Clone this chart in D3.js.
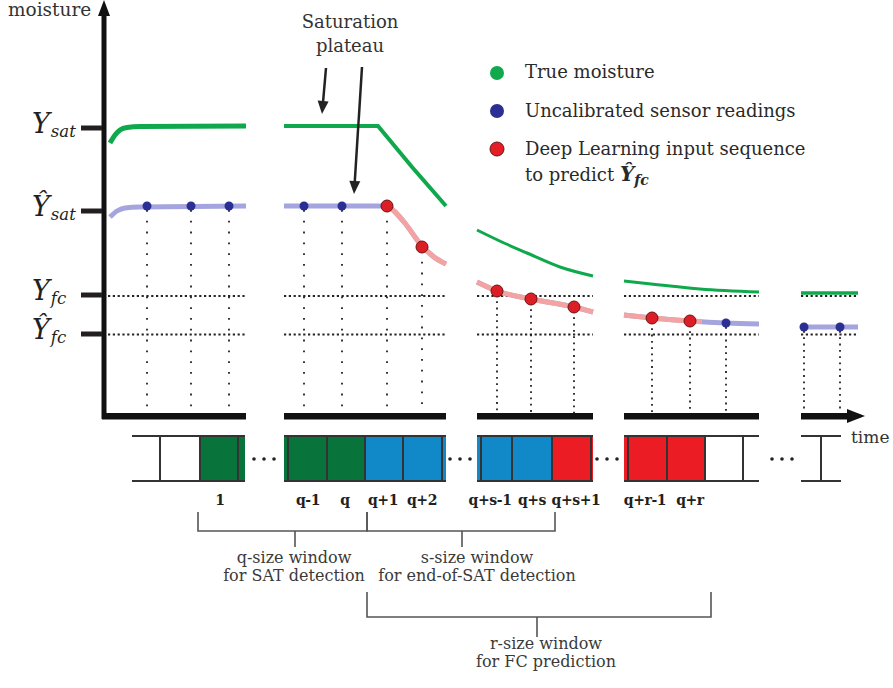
<!DOCTYPE html>
<html><head><meta charset="utf-8">
<script src="https://cdn.jsdelivr.net/npm/d3@7"></script>
<style>body{margin:0;background:#fff} svg{display:block}</style>
</head><body><svg id="c" width="893" height="688"></svg>
<script>
// ---------------- DATA ----------------
// time axis is broken into visible segments [t0, t1]
const axisSegments = [[-2,142],[180,342],[373,489],[520,655],[697,743]];
// true moisture curve, per segment: [time, moisture]
const trueMoisture = [
  [[6,273],[11,281],[16,286],[23,288.5],[36,289.5],[142,290]],
  [[180,290],[274,290],[308,249],[342,210]],
  [[373,186],[400,173],[423,163],[456,149],[489,140]],
  [[520,135],[556,131],[596,127],[655,124]],
  [[697,123],[754,123]]
];
// uncalibrated sensor curve, per segment
const sensorCurve = [
  [[6,199],[13,205],[21,208],[36,209],[142,210]],
  [[180,210],[283,210],[290,205],[300,194],[318,170],[330,159],[342,152]],
  [[373,134],[393,125],[427,117],[470,109],[489,104]],
  [[520,101],[548,98],[586,95],[622,93],[655,92]],
  [[697,89],[754,89]]
];
// deep-learning input part of the sensor curve
const dlCurve = [
  [[283,210],[290,205],[300,194],[318,170],[330,159],[342,152]],
  [[373,134],[393,125],[427,117],[470,109],[489,104]],
  [[520,101],[548,98],[586,95],[598,94.5]]
];
// sensor readings (blue points)
const sensorT = [43,87,125,200,238,622,700,736];
const sensorM = [210,210,210,210,210,93,89,89];
// DL input sequence (red points)
const dlT = [283,318,393,427,470,548,586];
const dlM = [210,169,125,117,109,98,95];
// reference levels on the moisture axis
const levelNames = ["Y","Ŷ","Y","Ŷ"];
const levelSubs = ["sat","sat","fc","fc"];
const levelValues = [288,205,121,82];
// dotted FC lines
const fcLines = [120,81.5];
const fcSpans = [[4,141],[180,342],[373,489],[520,655],[697,754]];
// legend
const legendLabels = ["True moisture","Uncalibrated sensor readings","Deep Learning input sequence"];
// time-step boxes
const boxRails = [[28,141],[180,342],[373,489],[520,655],[697,737]];
const boxDividers = [56,96,134,184,223,261,299,338,377,408,448,487,524,563,601,639,717];
const boxFills = [[96,141,"g"],[180,261,"g"],[261,342,"b"],[373,448,"b"],[448,489,"r"],[520,601,"r"]];
const boxLabels = ["1","q-1","q","q+1","q+2","q+s-1","q+s","q+s+1","q+r-1","q+r"];
const boxLabelT = [116,204,241,279,318,386,428,472,541,586];
const ellipsisT = [160,356,503,678];
// windows (brackets)
const windowSpans = [[94,263],[263,451],[263,607]];
const windowStem = [191,358,433];
const windowText = [["q-size window","for SAT detection"],["s-size window","for end-of-SAT detection"],["r-size window","for FC prediction"]];
const windowTextT = [190,373,442];

// ---------------- DRAW ----------------
const svg = d3.select('#c');
const x = d3.scaleLinear().domain([0,760]).range([104,864]);
const y = d3.scaleLinear().domain([0,416]).range([416,0]);
const lineM = d3.line().x(d=>x(d[0])).y(d=>y(d[1])).curve(d3.curveMonotoneX);
const lineL = d3.line().x(d=>x(d[0])).y(d=>y(d[1]));
const SERIF = "'DejaVu Serif', serif";
const C = {g:"#08733a", b:"#1189c9", r:"#ec1c24"};

// dotted FC lines
fcLines.forEach(m=>{
  svg.append('g').selectAll('line').data(fcSpans).join('line')
    .attr('x1',d=>x(d[0])).attr('x2',d=>x(d[1]))
    .attr('y1',y(m)).attr('y2',y(m))
    .attr('stroke','#222').attr('stroke-width',2.2).attr('stroke-dasharray','2.2,2.6');
});
// vertical dotted drops
const pts = sensorT.map((t,i)=>({t,m:sensorM[i],c:'b'})).concat(dlT.map((t,i)=>({t,m:dlM[i],c:'r'})));
svg.append('g').selectAll('line').data(pts).join('line')
  .attr('x1',d=>x(d.t)).attr('x2',d=>x(d.t))
  .attr('y1',d=>y(d.m)+4).attr('y2',y(3))
  .attr('stroke','#222').attr('stroke-width',1.8)
  .attr('stroke-dasharray',d=>d.t<350?'1.8,9':'1.8,4.5');

// sensor curve
svg.append('g').selectAll('path').data(sensorCurve).join('path')
  .attr('d',lineM).attr('fill','none').attr('stroke','#a4a4df').attr('stroke-width',5);
svg.append('g').selectAll('path').data(dlCurve).join('path')
  .attr('d',lineM).attr('fill','none').attr('stroke','#f4a3a3').attr('stroke-width',5);
// true moisture
const gw = [5,4,3,3,3.5];
svg.append('g').selectAll('path').data(trueMoisture).join('path')
  .attr('d',(d,i)=> i===1? lineL(d): lineM(d)).attr('fill','none')
  .attr('stroke','#10a84c').attr('stroke-width',(d,i)=>gw[i]);

// points
svg.append('g').selectAll('circle').data(sensorT).join('circle')
  .attr('cx',d=>x(d)).attr('cy',(d,i)=>y(sensorM[i])).attr('r',4.5)
  .attr('fill','#2b2f93');
svg.append('g').selectAll('circle').data(dlT).join('circle')
  .attr('cx',d=>x(d)).attr('cy',(d,i)=>y(dlM[i])).attr('r',6)
  .attr('fill','#dc1f26').attr('stroke','#6b1414').attr('stroke-width',1);

// axes
svg.append('line').attr('x1',104).attr('x2',104).attr('y1',y(-3)).attr('y2',12)
  .attr('stroke','#111').attr('stroke-width',5);
svg.append('path').attr('d','M98,16 L104,0 L110,16 Z').attr('fill','#111');
svg.append('g').selectAll('rect').data(axisSegments).join('rect')
  .attr('x',d=>x(d[0])).attr('width',(d,i)=>x(d[1])-x(d[0]))
  .attr('y',y(3)).attr('height',6.5).attr('fill','#111');
const last = axisSegments[axisSegments.length-1];
svg.append('path').attr('d',`M${x(last[1])},${y(0)-7} L${x(last[1])+18},${y(0)} L${x(last[1])},${y(0)+7} Z`).attr('fill','#111');

// level ticks & labels
svg.append('g').selectAll('line').data(levelValues).join('line')
  .attr('x1',81).attr('x2',102).attr('y1',d=>y(d)).attr('y2',d=>y(d))
  .attr('stroke','#231f20').attr('stroke-width',5);
const lab = svg.append('g').selectAll('text').data(levelValues).join('text')
  .attr('x',32).attr('y',d=>y(d)+5)
  .attr('font-family',SERIF).attr('font-style','italic').attr('fill','#231f20');
lab.append('tspan').attr('font-size',27).text((d,i)=>levelNames[i]);
lab.append('tspan').attr('font-size',16.5).attr('dy',4).attr('dx',1).text((d,i)=>levelSubs[i]);

// axis titles
svg.append('text').attr('x',8).attr('y',16).attr('font-family',SERIF).attr('font-size',18.5)
  .attr('fill','#333').text('moisture');
svg.append('text').attr('x',851).attr('y',443).attr('font-family',SERIF).attr('font-size',17)
  .attr('fill','#333').text('time');

// saturation plateau annotation
svg.append('text').attr('x',350).attr('y',28).attr('text-anchor','middle').attr('font-family',SERIF)
  .attr('font-size',18).attr('fill','#333').text('Saturation');
svg.append('text').attr('x',350).attr('y',52).attr('text-anchor','middle').attr('font-family',SERIF)
  .attr('font-size',18).attr('fill','#333').text('plateau');
function arrow(x1,y1,x2,y2){
  const a=Math.atan2(y2-y1,x2-x1), L=13, Wd=5.5;
  const bx=x2-L*Math.cos(a), by=y2-L*Math.sin(a);
  svg.append('line').attr('x1',x1).attr('y1',y1).attr('x2',bx).attr('y2',by).attr('stroke','#222').attr('stroke-width',2.5);
  svg.append('path').attr('d',`M${x2},${y2} L${bx+Wd*Math.sin(a)},${by-Wd*Math.cos(a)} L${bx-Wd*Math.sin(a)},${by+Wd*Math.cos(a)} Z`).attr('fill','#222');
}
arrow(326,68,322,114);
arrow(362,67,354,194);

// legend
const legColors = ['#12a84d','#2b2f93','#e31e26'];
const lg = svg.append('g');
lg.selectAll('circle').data(legendLabels).join('circle')
  .attr('cx',497).attr('cy',(d,i)=>73+i*38).attr('r',7)
  .attr('fill',(d,i)=>legColors[i]).attr('stroke',(d,i)=>i===2?'#6b1414':'none');
lg.selectAll('text').data(legendLabels).join('text')
  .attr('x',525).attr('y',(d,i)=>78+i*38.5).attr('font-family',SERIF).attr('font-size',18)
  .attr('fill','#2a2a2a').text(d=>d);
const tp = lg.append('text').attr('x',525).attr('y',181).attr('font-family',SERIF).attr('font-size',18).attr('fill','#2a2a2a');
tp.append('tspan').text('to predict  ');
tp.append('tspan').attr('font-style','italic').attr('font-weight','bold').attr('font-size',20).text('Ŷ');
tp.append('tspan').attr('font-style','italic').attr('font-weight','bold').attr('font-size',14).attr('dy',4).text('fc');

// boxes
const bTop=436, bBot=481;
svg.append('g').selectAll('rect').data(boxFills).join('rect')
  .attr('x',d=>x(d[0])).attr('width',d=>x(d[1])-x(d[0])).attr('y',bTop).attr('height',bBot-bTop)
  .attr('fill',d=>C[d[2]]);
[bTop,bBot].forEach(yy=>{
  svg.append('g').selectAll('line').data(boxRails).join('line')
    .attr('x1',d=>x(d[0])).attr('x2',d=>x(d[1])).attr('y1',yy).attr('y2',yy)
    .attr('stroke','#333').attr('stroke-width',2);
});
svg.append('g').selectAll('line').data(boxDividers).join('line')
  .attr('x1',d=>x(d)).attr('x2',d=>x(d)).attr('y1',bTop).attr('y2',bBot)
  .attr('stroke','#333').attr('stroke-width',2);
svg.append('g').selectAll('text').data(boxLabels).join('text')
  .attr('x',(d,i)=>x(boxLabelT[i])).attr('y',505).attr('text-anchor','middle')
  .attr('font-family',SERIF).attr('font-weight','bold').attr('font-size',14)
  .attr('letter-spacing',-0.4).attr('fill','#231f20').text(d=>d);
ellipsisT.forEach(t=>{
  svg.append('g').selectAll('circle').data([-10,0,10]).join('circle')
    .attr('cx',d=>x(t)+d).attr('cy',459).attr('r',1.8).attr('fill','#222');
});

// window brackets
const wy = [[512,531,547],[512,531,547],[592,617,637]];
windowSpans.forEach((s,i)=>{
  const [t,b,st]=wy[i];
  svg.append('path').attr('d',`M${x(s[0])},${t} V${b} H${x(s[1])} V${t} M${x(windowStem[i])},${b} V${st}`)
    .attr('fill','none').attr('stroke','#555').attr('stroke-width',1.6);
  const tx = svg.append('text').attr('text-anchor','middle').attr('font-family',SERIF).attr('font-size',16).attr('fill','#3a3a3a');
  tx.append('tspan').attr('x',x(windowTextT[i])).attr('y',b+32).text(windowText[i][0]);
  tx.append('tspan').attr('x',x(windowTextT[i])).attr('y',b+50).text(windowText[i][1]);
});
</script></body></html>
